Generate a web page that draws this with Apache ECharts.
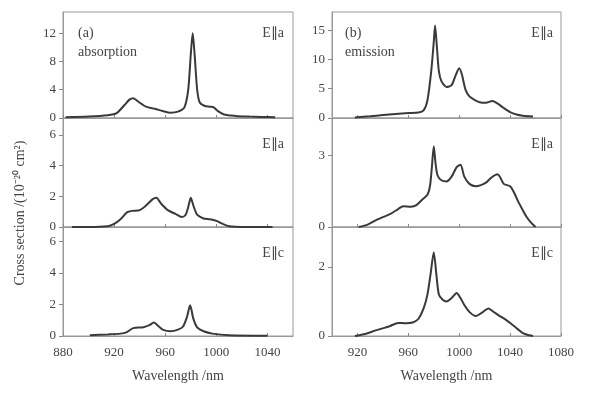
<!DOCTYPE html>
<html>
<head>
<meta charset="utf-8">
<script src="https://cdn.jsdelivr.net/npm/echarts@6/dist/echarts.min.js"></script>
<style>html,body{margin:0;padding:0;background:#fff}#c{width:600px;height:400px}</style>
</head>
<body>
<div id="c"></div>
<script>
// ---- data ----
// (a) absorption, E||a (top)
const wlAbsA1 = [882,900,915,922,928,932,935,939,945,952,958,964,970,975,978,980,981.5,983,985,987,991,995,998,1001,1006,1015,1026,1035,1046];
const absA1   = [0.1,0.2,0.4,0.7,1.8,2.6,2.8,2.3,1.6,1.3,1.0,0.75,0.9,1.5,4,9,12,9,4,2.2,1.7,1.6,1.5,1.0,0.5,0.3,0.2,0.15,0.1];
// (a) absorption, E||a (middle)
const wlAbsA2 = [887,900,915,920,925,930,934,940,945,950,953,957,962,968,973,976,978,980,982,985,990,995,1000,1005,1010,1020,1044];
const absA2   = [0,0,0.05,0.2,0.5,0.95,1.05,1.1,1.4,1.8,1.9,1.5,1.1,0.85,0.65,0.8,1.3,1.9,1.4,0.8,0.55,0.5,0.4,0.2,0.05,0,0];
// (a) absorption, E||c (bottom)
const wlAbsC  = [901,915,925,930,935,943,948,951,955,958,964,970,974,977,979.5,982,985,990,997,1010,1040];
const absC    = [0.05,0.1,0.15,0.25,0.5,0.55,0.7,0.85,0.6,0.4,0.3,0.4,0.6,1.2,1.95,1.1,0.55,0.3,0.15,0.05,0.02];
// (b) emission, E||a (top)
const wlEmA1 = [918,930,940,950,960,968,972,975,978,980,981,982.5,984,986,990,994,997,1000,1002,1005,1008,1012,1016,1021,1026,1030,1035,1040,1045,1050,1058];
const emA1   = [0.1,0.3,0.5,0.7,0.85,0.95,1.3,3,8,13,15.8,12,8,6.3,5.3,5.6,7.2,8.5,7.5,4.8,3.7,3.1,2.7,2.6,2.9,2.5,1.7,1.0,0.6,0.4,0.25];
// (b) emission, E||a (middle)
const wlEmA2 = [921,928,935,946,952,956,962,966,971,975,977,978.5,980,981.5,983,986,990,994,998,1001,1004,1008,1013,1017,1021,1025,1030,1032,1035,1040,1043,1046,1050,1053,1057,1060];
const emA2   = [0,0.1,0.3,0.55,0.75,0.87,0.85,0.9,1.15,1.35,1.7,2.5,3.37,2.6,2.15,1.95,1.9,2.1,2.5,2.6,2.1,1.8,1.7,1.75,1.85,2.05,2.2,2.1,1.8,1.7,1.45,1.1,0.7,0.42,0.15,0];
// (b) emission, E||c (bottom)
const wlEmC = [918,925,935,945,952,958,964,968,972,975,977.5,980,982,984,987,990,994,998,1001,1004,1008,1013,1018,1023,1027,1031,1037,1042,1046,1050,1055,1058];
const emC   = [0,0.05,0.17,0.28,0.38,0.37,0.4,0.5,0.8,1.2,1.8,2.43,1.8,1.2,1.05,1.0,1.1,1.25,1.1,0.9,0.7,0.58,0.68,0.8,0.7,0.6,0.46,0.32,0.2,0.08,0.02,0];

const xTicksLeft  = [880,920,960,1000,1040];
const xTicksRight = [920,960,1000,1040,1080];
const yTicks = [[0,4,8,12],[0,2,4,6],[0,2,4,6],[0,5,10,15],[0,3],[0,2]];
const yMax = [15,7.1,6.9,18.1,4.55,3.16];
const panelTextLeft = ['E∥a','E∥a','E∥c','E∥a','E∥a','E∥c'];

const xsList = [wlAbsA1, wlAbsA2, wlAbsC, wlEmA1, wlEmA2, wlEmC];
const ysList = [absA1, absA2, absC, emA1, emA2, emC];

// ---- layout ----
const FONT = 'Liberation Serif';
const TXT = '#444';
const AX = '#999';
const colX = [{left:63,width:230,min:880,max:1060,ticks:xTicksLeft},{left:332,width:229,min:900,max:1080,ticks:xTicksRight}];
const rows = [{top:12,height:106},{top:118,height:109},{top:227,height:109}];

const grids=[], xAxes=[], yAxes=[], series=[];
for (let c=0;c<2;c++) for (let r=0;r<3;r++) {
  const i = c*3+r;
  grids.push({left:colX[c].left, top:rows[r].top, width:colX[c].width, height:rows[r].height,
    show:true, borderColor:AX, borderWidth:1, backgroundColor:'transparent'});
  xAxes.push({type:'value', gridIndex:i, min:colX[c].min, max:colX[c].max,
    axisLine:{show:true, onZero:false, lineStyle:{color:AX,width:1}},
    axisTick:{show:true, inside:true, length:3, customValues:colX[c].ticks, lineStyle:{color:'#888'}},
    axisLabel:{show:r===2, customValues:colX[c].ticks, margin:10, fontFamily:FONT, fontSize:13, color:TXT,
      formatter:(v)=>String(v)},
    splitLine:{show:false},
    name: r===2 ? 'Wavelength /nm' : '', nameLocation:'middle', nameGap:33,
    nameTextStyle:{fontFamily:FONT, fontSize:14, color:TXT}
  });
  yAxes.push({type:'value', gridIndex:i, min:0, max:yMax[i],
    axisLine:{show:true, lineStyle:{color:AX,width:1}},
    axisTick:{show:true, inside:false, length:4, customValues:yTicks[i], lineStyle:{color:'#888'}},
    axisLabel:{customValues:yTicks[i], margin:7, fontFamily:FONT, fontSize:13, color:TXT,
      formatter:(v)=>String(v)},
    splitLine:{show:false}
  });
  series.push({type:'line', xAxisIndex:i, yAxisIndex:i, showSymbol:false, smooth:0.25,
    data: xsList[i].map((x,k)=>[x, ysList[i][k]]),
    lineStyle:{color:'#3a3a3a', width:2}});
}

const textStyle = (t,x,y,align)=>({type:'text', x:x, y:y,
  style:{text:t, fontFamily:FONT, fontSize:14, fill:TXT, textAlign:align||'left', textVerticalAlign:'middle'}});

const graphics = [
  textStyle('(a)', 78, 33), textStyle('absorption', 78, 52),
  textStyle('(b)', 345, 33), textStyle('emission', 345, 52),
  textStyle(panelTextLeft[0], 284, 33, 'right'),
  textStyle(panelTextLeft[1], 284, 144, 'right'),
  textStyle(panelTextLeft[2], 284, 253, 'right'),
  textStyle(panelTextLeft[3], 553, 33, 'right'),
  textStyle(panelTextLeft[4], 553, 144, 'right'),
  textStyle(panelTextLeft[5], 553, 253, 'right'),
  {type:'text', x:20, y:213, rotation:Math.PI/2,
   style:{text:'Cross section /(10⁻²⁰ cm²)', fontFamily:FONT, fontSize:14, fill:TXT, textAlign:'center', textVerticalAlign:'middle'}}
];

const chart = echarts.init(document.getElementById('c'), null, {renderer:'canvas'});
chart.setOption({
  animation:false,
  backgroundColor:'#fff',
  grid:grids, xAxis:xAxes, yAxis:yAxes, series:series,
  graphic:graphics
});
</script>
</body>
</html>
